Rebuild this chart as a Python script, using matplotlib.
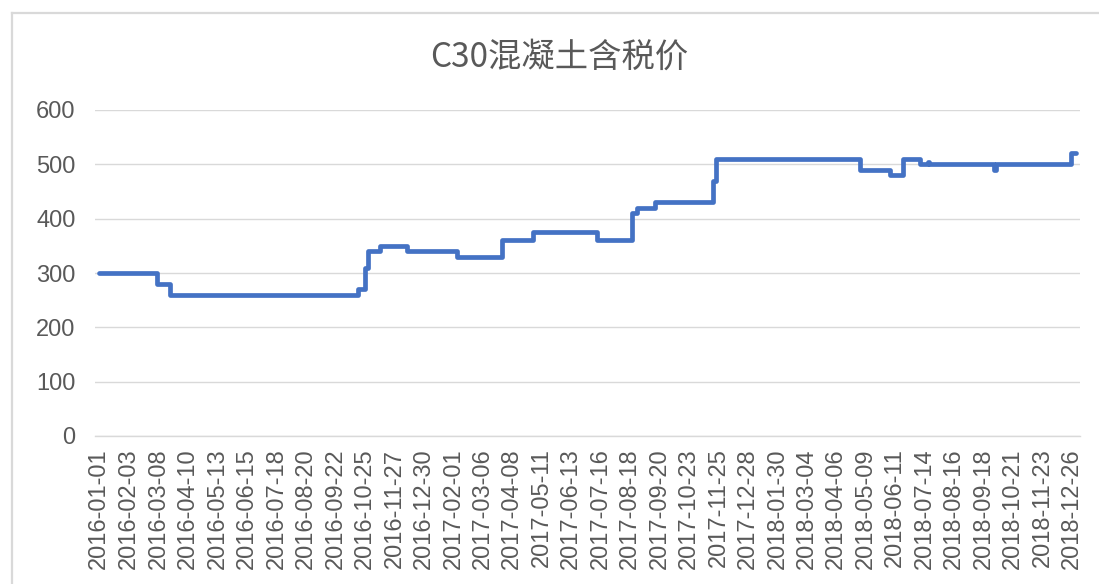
import matplotlib
matplotlib.use("Agg")
import matplotlib.pyplot as plt
from matplotlib.lines import Line2D
import pandas as pd

# ---- data ----
change_dates = ["2016-01-01", "2016-03-06", "2016-03-20", "2016-10-17", "2016-10-25",
                "2016-10-28", "2016-11-11", "2016-12-11", "2017-02-05", "2017-03-27",
                "2017-05-01", "2017-07-12", "2017-08-20", "2017-08-26", "2017-09-15",
                "2017-11-19", "2017-11-22", "2018-05-02", "2018-06-05", "2018-06-20",
                "2018-07-09", "2018-07-18", "2018-07-19", "2018-09-30", "2018-10-02",
                "2018-12-25", "2018-12-31"]
prices = [300, 280, 260, 270, 310,
          340, 350, 340, 330, 360,
          375, 360, 410, 420, 430,
          470, 510, 490, 480, 510,
          500, 505, 500, 490, 500,
          520, 520]
tick_labels = ["2016-01-01", "2016-02-03", "2016-03-08", "2016-04-10", "2016-05-13",
               "2016-06-15", "2016-07-18", "2016-08-20", "2016-09-22", "2016-10-25",
               "2016-11-27", "2016-12-30", "2017-02-01", "2017-03-06", "2017-04-08",
               "2017-05-11", "2017-06-13", "2017-07-16", "2017-08-18", "2017-09-20",
               "2017-10-23", "2017-11-25", "2017-12-28", "2018-01-30", "2018-03-04",
               "2018-04-06", "2018-05-09", "2018-06-11", "2018-07-14", "2018-08-16",
               "2018-09-18", "2018-10-21", "2018-11-23", "2018-12-26"]
y_ticks = [0, 100, 200, 300, 400, 500, 600]
title = "C30混凝土含税价"

# ---- plot ----
plt.rcParams['font.family'] = ['Liberation Sans', 'Noto Sans CJK SC', 'DejaVu Sans']
W, H = 1099, 584
fig = plt.figure(figsize=(W / 100, H / 100), dpi=100)
ax = fig.add_axes([95 / W, 1 - 436 / H, (1080 - 95) / W, (436 - 110) / H])

x = pd.to_datetime(change_dates)
ax.plot(x, prices, drawstyle="steps-post", color="#4472C4", linewidth=3.4,
        solid_joinstyle="round", solid_capstyle="round")

ax.set_ylim(0, 600)
ax.set_yticks(y_ticks)
ax.set_xlim(pd.Timestamp("2016-01-01") - pd.Timedelta(days=4.5),
            pd.Timestamp("2016-01-01") + pd.Timedelta(days=1099))
tick_pos = pd.to_datetime(tick_labels)
ax.set_xticks(tick_pos)
ax.set_xticklabels(tick_labels, rotation=90, va="top", ha="center")

ax.grid(axis="y", color="#d9d9d9", linewidth=1.0)
ax.set_axisbelow(True)
for s in ["top", "right", "left"]:
    ax.spines[s].set_visible(False)
ax.spines["bottom"].set_color("#d9d9d9")
ax.spines["bottom"].set_linewidth(1.0)
ax.tick_params(axis="both", length=0, colors="#595959", labelsize=17)
ax.tick_params(axis="y", pad=14)
ax.tick_params(axis="x", pad=9)

fig.text(559 / W, 1 - 57 / H, title, ha="center", va="center", fontsize=24,
         color="#595959", family=['Noto Sans CJK SC', 'DejaVu Sans'])

# chart area border (left and top edges visible)
fig.add_artist(Line2D([12 / W, 12 / W], [0, 1 - 13 / H], transform=fig.transFigure,
                      color="#d9d9d9", linewidth=1.6))
fig.add_artist(Line2D([12 / W, 1], [1 - 13 / H, 1 - 13 / H], transform=fig.transFigure,
                      color="#d9d9d9", linewidth=1.6))

fig.savefig("out.png", dpi=100)
